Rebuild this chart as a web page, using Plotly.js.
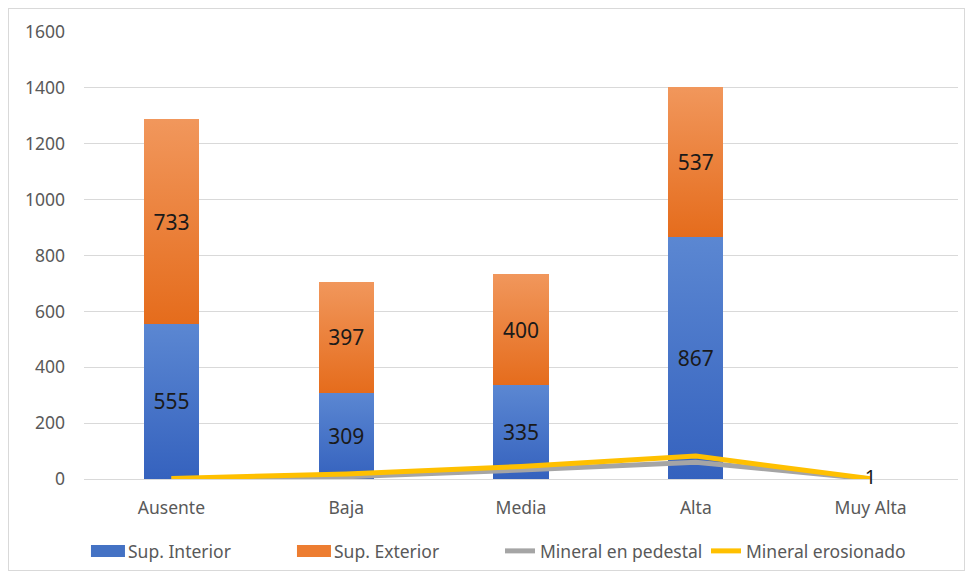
<!DOCTYPE html>
<html>
<head>
<meta charset="utf-8">
<script src="https://cdn.plot.ly/plotly-3.0.1.min.js"></script>
<style>
html,body{margin:0;padding:0;background:#fff;}
#chart{width:971px;height:578px;}
#frame{position:absolute;left:8px;top:8px;width:955px;height:561px;border:1px solid #d9d9d9;pointer-events:none;}
</style>
</head>
<body>
<div id="chart"></div>
<div id="frame"></div>
<script>
const categories = ["Ausente", "Baja", "Media", "Alta", "Muy Alta"];
const supInterior = [555, 309, 335, 867, null];
const supExterior = [733, 397, 400, 537, null];
const mineralPedestal = [0, 8, 32, 60, 0];
const mineralErosionado = [2, 18, 45, 82, 1];
const erosionadoLabels = ["", "", "", "", "1"];

const fontFam = "Noto Sans, Open Sans, sans-serif";

const traces = [
  {
    type: "bar", name: "Sup. Interior", x: categories, y: supInterior,
    marker: {color: "#4472C4"},
    text: supInterior.map(v => v == null ? "" : String(v)),
    textposition: "inside", insidetextanchor: "middle", textangle: 0,
    textfont: {family: fontFam, size: 21, color: "#1a1a1a"},
    hoverinfo: "skip"
  },
  {
    type: "bar", name: "Sup. Exterior", x: categories, y: supExterior,
    marker: {color: "#ED7D31"},
    text: supExterior.map(v => v == null ? "" : String(v)),
    textposition: "inside", insidetextanchor: "middle", textangle: 0,
    textfont: {family: fontFam, size: 21, color: "#1a1a1a"},
    hoverinfo: "skip"
  },
  {
    type: "scatter", mode: "lines", name: "Mineral en pedestal",
    x: categories, y: mineralPedestal,
    line: {color: "#A5A5A5", width: 5}
  },
  {
    type: "scatter", mode: "lines+text", name: "Mineral erosionado",
    x: categories, y: mineralErosionado,
    text: erosionadoLabels, textposition: "middle center",
    cliponaxis: false,
    textfont: {family: fontFam, size: 20, color: "#1a1a1a"},
    line: {color: "#FFC000", width: 5}
  }
];

const layout = {
  width: 971, height: 578,
  margin: {l: 84, r: 13, t: 32, b: 99, autoexpand: false},
  barmode: "stack",
  bargap: 0.685,
  paper_bgcolor: "#ffffff",
  plot_bgcolor: "#ffffff",
  font: {family: fontFam, color: "#595959", size: 17},
  xaxis: {
    type: "category", automargin: false,
    showgrid: false, showline: false, zeroline: false,
    ticks: "", tickfont: {family: fontFam, size: 17.5, color: "#595959"},
    ticklabelstandoff: 16
  },
  yaxis: {
    range: [0, 1600], dtick: 200, automargin: false,
    showgrid: true, gridcolor: "#d9d9d9", gridwidth: 1,
    zeroline: true, zerolinecolor: "#d9d9d9", zerolinewidth: 1,
    showline: false, ticks: "",
    tickfont: {family: fontFam, size: 17.5, color: "#595959"},
    ticklabelstandoff: 18
  },
  showlegend: true,
  legend: {
    orientation: "h", xref: "container", yref: "container",
    x: 0.0906, xanchor: "left", y: 0.0467, yanchor: "middle",
    font: {family: fontFam, size: 17.5, color: "#595959"},
    traceorder: "normal", itemwidth: 30, entrywidth: 161
  }
};

Plotly.newPlot("chart", traces, layout, {displayModeBar: false, staticPlot: true}).then(function(gd){
  const svg = gd.querySelector("svg.main-svg");
  const ns = "http://www.w3.org/2000/svg";
  let defs = svg.querySelector("defs");
  function addGrad(id, top, bottom){
    const g = document.createElementNS(ns, "linearGradient");
    g.setAttribute("id", id);
    g.setAttribute("x1", "0"); g.setAttribute("y1", "0");
    g.setAttribute("x2", "0"); g.setAttribute("y2", "1");
    const s1 = document.createElementNS(ns, "stop");
    s1.setAttribute("offset", "0"); s1.setAttribute("stop-color", top);
    const s2 = document.createElementNS(ns, "stop");
    s2.setAttribute("offset", "1"); s2.setAttribute("stop-color", bottom);
    g.appendChild(s1); g.appendChild(s2); defs.appendChild(g);
  }
  addGrad("gradBlue", "#5B87D2", "#3562BE");
  addGrad("gradOrange", "#F1975C", "#E56C1C");
  const barTraces = gd.querySelectorAll(".barlayer .trace");
  const ids = ["gradBlue", "gradOrange"];
  barTraces.forEach(function(t, i){
    t.querySelectorAll("path").forEach(function(p){
      p.style.fill = "url(#" + ids[i] + ")";
    });
  });
  // widen bar legend swatches to a rectangle
  gd.querySelectorAll(".legend .traces").forEach(function(tr, i){
    if (i < 2) {
      tr.querySelectorAll(".legendpoints path").forEach(function(p){
        p.setAttribute("d", "M17,6H-17V-6H17Z");
      });
    }
  });
});
</script>
</body>
</html>
